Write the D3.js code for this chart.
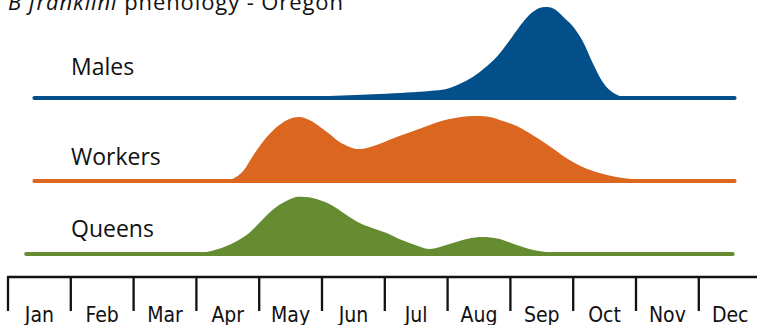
<!DOCTYPE html>
<html>
<head>
<meta charset="utf-8">
<script src="https://cdn.jsdelivr.net/npm/d3@7"></script>
<style>
  body { margin: 0; background: #fff; }
  svg { display: block; }
</style>
</head>
<body>
<svg id="chart" width="757" height="325"></svg>
<script>
// ---- data (x in months from Jan 1, y = relative abundance) ----
const months = ["Jan","Feb","Mar","Apr","May","Jun","Jul","Aug","Sep","Oct","Nov","Dec"];
const castes = ["Males","Workers","Queens"];
const colors = ["#024f8a","#db661f","#668c32"];

const malesX = [0.42,4.16,5.91,6.71,6.98,7.19,7.40,7.59,7.78,7.98,8.14,8.30,8.46,8.59,8.70,8.86,8.99,9.15,9.31,9.47,9.58,9.74,9.98,11.57];
const malesY = [0,0.5,4,7,9,14,21,30,41,57,71,83,90,91,89,80,72,57,35,16,8,2,0,0];

const workersX = [0.42,3.37,3.57,3.73,3.92,4.12,4.32,4.48,4.64,4.80,4.95,5.12,5.28,5.44,5.55,5.71,5.91,6.23,6.50,6.76,7.03,7.40,7.67,7.83,8.10,8.35,8.62,8.89,9.15,9.42,9.69,9.94,10.21,10.5,11.57];
const workersY = [0,0,2,9,27,44,56,62,64,61,55,47,39,34,32,33,37,45,51,57,62,65,64,61,55,46,35,23,14,8,4,2,1,0,0];

const queensX = [0.29,2.89,3.16,3.48,3.80,4.00,4.21,4.40,4.59,4.72,4.85,5.12,5.39,5.60,5.80,6.03,6.23,6.44,6.71,6.98,7.24,7.51,7.75,7.88,8.10,8.30,8.57,8.83,9.43,11.54];
const queensY = [0,0,2,8,19,31,44,52,57,57,56,50,39,31,26,21,15,10,5,9,14,17,16,14,9,5,2,1,0.5,0];

const seriesX = [malesX, workersX, queensX];
const seriesY = [malesY, workersY, queensY];

// ---- layout ----
const svg = d3.select("#chart");
const x = d3.scaleLinear().domain([0, 12]).range([8, 761.6]);
const h = d3.scaleLinear().domain([0, 100]).range([0, 100]);
const baselines = [98, 181, 254];
const labelY = [75, 165, 237];

// title
const title = svg.append("text")
  .attr("x", 8).attr("y", 10)
  .attr("font-family", "'Open Sans', sans-serif")
  .attr("font-size", 22)
  .attr("letter-spacing", 0.9)
  .attr("fill", "#111");
title.append("tspan").attr("font-style", "italic").text("B franklini");
title.append("tspan").text(" phenology - Oregon");

castes.forEach((name, i) => {
  const pts = seriesX[i].map((d, j) => ({ m: d, v: seriesY[i][j] }));
  const base = baselines[i];
  const area = d3.area()
    .x(d => x(d.m))
    .y0(base)
    .y1(d => Math.min(base, base - h(d.v)))
    .curve(d3.curveCatmullRom.alpha(0.5));
  svg.append("path")
    .datum(pts)
    .attr("d", area)
    .attr("fill", colors[i]);
  svg.append("line")
    .attr("x1", x(seriesX[i][0])).attr("x2", x(seriesX[i][seriesX[i].length - 1]))
    .attr("y1", base).attr("y2", base)
    .attr("stroke", colors[i])
    .attr("stroke-width", 4)
    .attr("stroke-linecap", "round");
  svg.append("text")
    .attr("x", 71).attr("y", labelY[i])
    .attr("font-family", "'Open Sans', sans-serif")
    .attr("font-size", 23)
    .attr("fill", "#111")
    .text(name);
});

// axis
const axisY = 277;
const axisG = svg.append("g");
axisG.append("line")
  .attr("x1", x(0) - 1).attr("x2", 757)
  .attr("y1", axisY).attr("y2", axisY)
  .attr("stroke", "#111").attr("stroke-width", 2.6);
axisG.selectAll("line.tick")
  .data(d3.range(0, 12))
  .join("line")
  .attr("class", "tick")
  .attr("x1", d => x(d)).attr("x2", d => x(d))
  .attr("y1", axisY).attr("y2", 311)
  .attr("stroke", "#111").attr("stroke-width", 2.3);
axisG.selectAll("text.mlab")
  .data(months)
  .join("text")
  .attr("class", "mlab")
  .attr("x", (d, i) => x(i + 0.5))
  .attr("y", 322)
  .attr("text-anchor", "middle")
  .attr("font-family", "'Liberation Sans Narrow', 'DejaVu Sans Condensed', sans-serif")
  .attr("font-size", 21)
  .attr("fill", "#111")
  .text(d => d);
</script>
</body>
</html>
